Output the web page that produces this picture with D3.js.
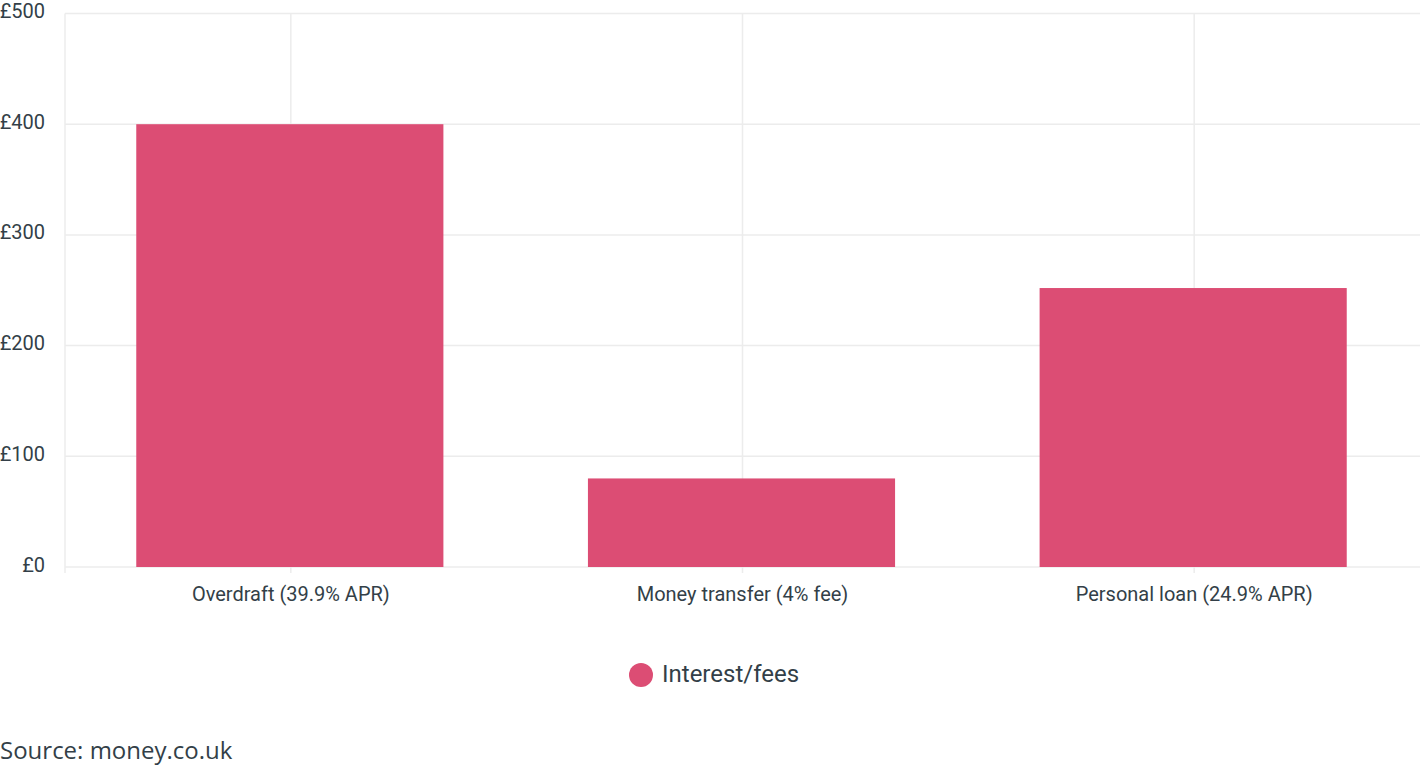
<!DOCTYPE html>
<html>
<head>
<meta charset="utf-8">
<script src="https://cdn.jsdelivr.net/npm/d3@7"></script>
<style>
  body { margin: 0; background: #fff; }
  svg { display: block; }
</style>
</head>
<body>
<div id="chart"></div>
<script>
// chart data
const categories = ["Overdraft (39.9% APR)", "Money transfer (4% fee)", "Personal loan (24.9% APR)"];
const interestFees = [400, 80, 252];
const yTicks = [0, 100, 200, 300, 400, 500];
const seriesName = "Interest/fees";
const sourceText = "Source: money.co.uk";

const width = 1420;
const height = 766;
const marginTop = 13.5;
const marginRight = 0;
const marginBottom = 199;
const marginLeft = 65;
const barColor = "#dc4d74";
const textColor = "#333f48";
const gridColor = "#ececec";

const data = categories.map((c, i) => ({ cat: c, value: interestFees[i] }));

const svg = d3.select("#chart")
  .append("svg")
  .attr("width", width)
  .attr("height", height)
  .attr("viewBox", [0, 0, width, height]);

// scales
const x = d3.scaleBand()
  .domain(categories)
  .range([marginLeft, width - marginRight])
  .paddingInner(0.32)
  .paddingOuter(0.16);

const y = d3.scaleLinear()
  .domain([0, 500])
  .range([height - marginBottom, marginTop]);

// horizontal grid
svg.append("g")
  .attr("stroke", gridColor)
  .attr("stroke-width", 1.5)
  .selectAll("line")
  .data(yTicks)
  .join("line")
  .attr("x1", marginLeft)
  .attr("x2", width - marginRight)
  .attr("y1", d => y(d))
  .attr("y2", d => y(d));

// vertical grid (left edge + category centres)
const vLines = [marginLeft].concat(categories.map(c => x(c) + x.bandwidth() / 2));
svg.append("g")
  .attr("stroke", gridColor)
  .attr("stroke-width", 1.5)
  .selectAll("line")
  .data(vLines)
  .join("line")
  .attr("x1", d => d)
  .attr("x2", d => d)
  .attr("y1", y(500))
  .attr("y2", y(0) + 6);

// bars
svg.append("g")
  .attr("fill", barColor)
  .selectAll("rect")
  .data(data)
  .join("rect")
  .attr("x", d => x(d.cat) - 1)
  .attr("y", d => y(d.value))
  .attr("width", x.bandwidth())
  .attr("height", d => y(0) - y(d.value));

// y axis
svg.append("g")
  .attr("transform", `translate(${marginLeft},0)`)
  .call(d3.axisLeft(y).tickValues(yTicks).tickFormat(d => "£" + d).tickSize(0).tickPadding(20))
  .call(g => g.select(".domain").remove())
  .call(g => g.selectAll("text")
    .attr("dy", "0.2em")
    .attr("fill", textColor)
    .style("font-family", "Roboto, sans-serif")
    .style("font-size", "20px"));

// x axis
svg.append("g")
  .attr("transform", `translate(0,${y(0)})`)
  .call(d3.axisBottom(x).tickSize(0).tickPadding(20))
  .call(g => g.select(".domain").remove())
  .call(g => g.selectAll("text")
    .attr("fill", textColor)
    .style("font-family", "Roboto, sans-serif")
    .style("font-size", "20px"));

// legend
const legend = svg.append("g").attr("transform", "translate(641,675)");
legend.append("circle").attr("r", 12).attr("fill", barColor);
legend.append("text")
  .attr("x", 21)
  .attr("dy", "0.3em")
  .attr("fill", textColor)
  .style("font-family", "Roboto, sans-serif")
  .style("font-size", "24px")
  .text(seriesName);

// source
svg.append("text")
  .attr("x", 0)
  .attr("y", 759)
  .attr("fill", textColor)
  .style("font-family", "'Open Sans', sans-serif")
  .style("font-size", "24px")
  .text(sourceText);
</script>
</body>
</html>
